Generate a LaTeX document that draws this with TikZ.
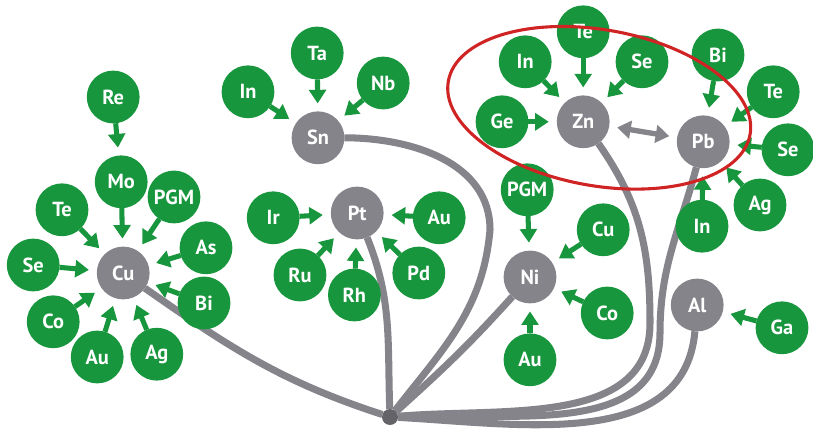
\documentclass[tikz,border=0pt]{standalone}
\usepackage{fontspec}
\setsansfont{PT Sans}
\usepackage{xcolor}
\usetikzlibrary{arrows.meta,backgrounds}

\definecolor{leafgreen}{RGB}{24,150,62}
\definecolor{hostgray}{RGB}{133,132,139}
\definecolor{ringred}{RGB}{208,36,36}

\begin{document}
\begin{tikzpicture}[
        x=1cm, y=1cm,
        every node/.style={align=center, inner sep=0pt, outer sep=0pt},
        elem/.style  ={circle, fill=leafgreen, text=white, minimum size=1.32cm,
                       font=\sffamily\bfseries\fontsize{14.5}{14.5}\selectfont},
        host/.style  ={elem, fill=hostgray},
        hubdot/.style={circle, fill=hostgray!75!black, minimum size=0.4cm},
        feed/.style  ={-{Triangle[length=3.4mm,width=4.2mm]}, line width=3.6pt,
                       color=leafgreen, shorten >=0.2cm},
        trunk/.style ={line width=5pt, color=hostgray},
        swap/.style  ={{Triangle[length=3.4mm,width=4.4mm]}-{Triangle[length=3.4mm,width=4.4mm]},
                       line width=3.8pt, color=hostgray,
                       shorten >=0.2cm, shorten <=0.2cm},
        ring/.style  ={draw=ringred, line width=2.2pt},
    ]
        \useasboundingbox (0,0) rectangle (20.325,10.825);

        % ===================== Cu =====================
        \node[host] (cu)    at ( 3.08, 4.00) {Cu};
        \node[elem] (re)    at ( 2.83, 8.40) {Re};
        \node[elem] (mo)    at ( 3.03, 6.28) {Mo};
        \node[elem] (pgmcu) at ( 4.35, 5.90) {PGM};
        \node[elem] (tecu)  at ( 1.55, 5.58) {Te};
        \node[elem] (as)    at ( 5.15, 4.63) {As};
        \node[elem] (secu)  at ( 0.83, 4.20) {Se};
        \node[elem] (bicu)  at ( 5.10, 3.25) {Bi};
        \node[elem] (cocu)  at ( 1.33, 2.78) {Co};
        \node[elem] (aucu)  at ( 2.43, 1.90) {Au};
        \node[elem] (agcu)  at ( 3.92, 1.97) {Ag};

        % ===================== Sn / Pt =====================
        \node[host] (sn)    at ( 7.95, 7.38) {Sn};
        \node[elem] (ta)    at ( 7.93, 9.50) {Ta};
        \node[elem] (insn)  at ( 6.20, 8.53) {In};
        \node[elem] (nb)    at ( 9.58, 8.75) {Nb};

        \node[host] (pt)    at ( 8.93, 5.50) {Pt};
        \node[elem] (ir)    at ( 6.83, 5.38) {Ir};
        \node[elem] (aupt)  at (10.98, 5.38) {Au};
        \node[elem] (ru)    at ( 7.50, 3.95) {Ru};
        \node[elem] (rh)    at ( 8.86, 3.45) {Rh};
        \node[elem] (pd)    at (10.47, 4.00) {Pd};

        % ===================== Zn / Pb =====================
        \node[host] (zn)    at (14.58, 7.78) {Zn};
        \node[elem] (tezn)  at (14.58,10.03) {Te};
        \node[elem] (inzn)  at (13.13, 9.28) {In};
        \node[elem] (sezn)  at (16.05, 9.28) {Se};
        \node[elem] (ge)    at (12.55, 7.78) {Ge};

        \node[host] (pb)    at (17.58, 7.28) {Pb};
        \node[elem] (bipb)  at (17.95, 9.45) {Bi};
        \node[elem] (tepb)  at (19.33, 8.53) {Te};
        \node[elem] (sepb)  at (19.70, 7.08) {Se};
        \node[elem] (agpb)  at (19.00, 5.70) {Ag};
        \node[elem] (inpb)  at (17.55, 5.17) {In};

        % ===================== Ni / Al =====================
        \node[host] (ni)    at (13.25, 3.90) {Ni};
        \node[elem] (pgmni) at (13.18, 6.08) {PGM};
        \node[elem] (cuni)  at (15.08, 5.08) {Cu};
        \node[elem] (coni)  at (15.18, 3.00) {Co};
        \node[elem] (auni)  at (13.25, 1.83) {Au};

        \node[host] (al)    at (17.43, 3.20) {Al};
        \node[elem] (ga)    at (19.55, 2.63) {Ga};

        % ===================== Nudo comun + troncos =====================
        \node[hubdot] (hub) at ( 9.75, 0.40) {};
        \coordinate (snbend) at (12.25, 5.08);
        \coordinate (znbend) at (16.25, 2.75);
        \coordinate (pbbend) at (16.50, 2.50);

        \begin{scope}[on background layer]
            \draw[trunk] (cu) to[out=-35, in=162] (hub);
            \draw[trunk] (sn) to[out=0, in=90] (snbend) to[out=-95, in=52] (hub);
            \draw[trunk] (pt) to[out=-68, in=92] (hub);
            \draw[trunk] (ni) to[out=-132, in=42] (hub);
            \draw[trunk] (zn) to[out=-55, in=90] (znbend) to[out=-90, in=5] (hub);
            \draw[trunk] (pb) to[out=-105, in=90] (pbbend) to[out=-90, in=3] (hub);
            \draw[trunk] (al) to[out=-95, in=-3] (hub);
        \end{scope}

        % ===================== Flechas verdes =====================
        \draw[feed] (re) -- (mo);
        \foreach \src in {mo, pgmcu, tecu, as, secu, bicu, cocu, aucu, agcu}
            \draw[feed] (\src) -- (cu);
        \foreach \src in {ta, insn, nb}
            \draw[feed] (\src) -- (sn);
        \foreach \src in {ir, aupt, ru, rh, pd}
            \draw[feed] (\src) -- (pt);
        \foreach \src in {tezn, inzn, sezn, ge}
            \draw[feed] (\src) -- (zn);
        \foreach \src in {bipb, tepb, sepb, agpb, inpb}
            \draw[feed] (\src) -- (pb);
        \foreach \src in {pgmni, cuni, coni, auni}
            \draw[feed] (\src) -- (ni);
        \draw[feed] (ga) -- (al);

        % Zn <-> Pb
        \draw[swap] (zn) -- (pb);

        % Anillo rojo
        \draw[ring] (14.98, 8.13) ellipse[x radius=3.83cm, y radius=1.95cm, rotate=-10];
    \end{tikzpicture}
\end{document}
